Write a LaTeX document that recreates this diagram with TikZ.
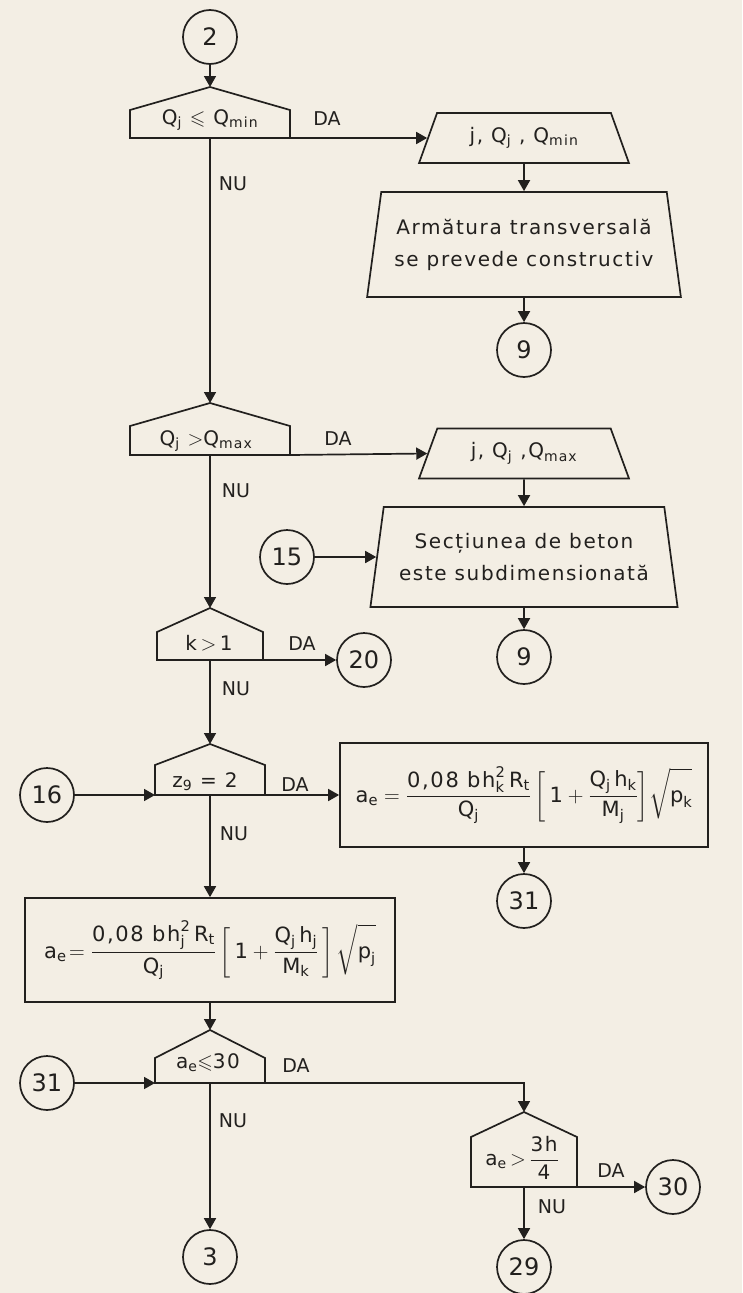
\documentclass[tikz,border=0pt]{standalone}
\usepackage{amsmath,amssymb,graphicx}
\usepackage{fontspec}
\setmainfont{DejaVu Sans}
\newfontfamily\wide{DejaVu Sans}[LetterSpace=8]
\usetikzlibrary{shapes.geometric,arrows.meta}
\definecolor{paper}{RGB}{243,238,228}
\definecolor{ink}{RGB}{34,32,30}
\newcommand\tx[1]{\text{#1}}
\newcommand\fsz{\fontsize{19}{26}\selectfont}
\newcommand\fwd{\fontsize{20}{26}\selectfont\wide}
\newcommand\Decision[6]{%
  \coordinate (#1-a) at (#2,#3);
  \coordinate (#1-l) at ({#2-#6},#5);
  \coordinate (#1-r) at ({#2+#6},#5);
  \coordinate (#1-b) at (#2,#5);
  \draw[shp] (#1-l) -- ({#2-#6},#4) -- (#1-a) -- ({#2+#6},#4) -- (#1-r) -- cycle;}
\tikzset{
  shp/.style={draw, line join=miter},
  conn/.style={draw, -{Triangle[length=11pt,width=12pt]}},
  circ/.style={draw, circle, minimum size=54pt, inner sep=0pt, font=\fontsize{24}{26}\selectfont},
  trapS/.style={draw, trapezium, trapezium stretches=true, trapezium left angle=62.5,
    trapezium right angle=62.5, minimum width=210pt, minimum height=50pt, inner sep=0pt, font=\fwd},
  trapB/.style={draw, trapezium, trapezium stretches=true, trapezium left angle=76,
    trapezium right angle=76, minimum width=314pt, minimum height=105pt, inner sep=0pt,
    align=center, font=\fontsize{20}{32}\selectfont\wide},
  fbox/.style={draw, rectangle, inner sep=0pt, font=\fwd},
  lbl/.style={font=\fsz, inner sep=0pt},
  dtx/.style={font=\fwd, inner sep=0pt}
}
\begin{document}
\begin{tikzpicture}[x=1pt,y=-1pt,line width=1.7pt,color=ink]
\fill[paper] (0,0) rectangle (742,1293);
\useasboundingbox (0,0) rectangle (742,1293);

% left column
\node[circ] (c2) at (210,37) {2};
\Decision{d1}{210}{87}{110}{138}{80}
\node[dtx,anchor=base] (d1t) at (210,124) {Q$_{\tx{j}}$ $\leqslant$ Q$_{\tx{min}}$};
\node[lbl,anchor=base] (d1da) at (327,125) {DA};
\node[lbl,anchor=base] (d1nu) at (233,190) {NU};

\Decision{d2}{210}{403}{426}{455}{80}
\node[dtx,anchor=base] (d2t) at (206,445) {Q$_{\tx{j}}$ $>$Q$_{\tx{max}}$};
\node[lbl,anchor=base] (d2da) at (338,445) {DA};
\node[lbl,anchor=base] (d2nu) at (236,497) {NU};

\Decision{d3}{210}{608}{632}{660}{53}
\node[dtx,anchor=base] (d3t) at (209,650) {k$\,>\,$1};
\node[lbl,anchor=base] (d3da) at (302,650) {DA};
\node[lbl,anchor=base] (d3nu) at (236,695) {NU};

\Decision{d4}{210}{744}{765}{795}{55}
\node[dtx,anchor=base] (d4t) at (205,787) {z$_{\tx{9}}$ = 2};
\node[lbl,anchor=base] (d4da) at (295,791) {DA};
\node[lbl,anchor=base] (d4nu) at (234,840) {NU};

\Decision{d5}{210}{1030}{1058}{1083}{55}
\node[dtx,anchor=base] (d5t) at (208,1068) {a$_{\tx{e}}$$\leqslant$30};
\node[lbl,anchor=base] (d5da) at (296,1072) {DA};
\node[lbl,anchor=base] (d5nu) at (233,1127) {NU};

\Decision{d6}{524}{1112}{1137}{1187}{53}
\node[dtx] (d6t) at (522,1158) {$\tx{a}_{\tx{e}}\,{>}\,\dfrac{\tx{3h}}{\tx{4}}$};
\node[lbl,anchor=base] (d6da) at (611,1177) {DA};
\node[lbl,anchor=base] (d6nu) at (552,1213) {NU};

% right column
\node[trapS] (t1) at (524,138) {j, Q$_{\tx{j}}$ , Q$_{\tx{min}}$};
\node[trapB] (b1) at (524,244.5) {Armătura transversală\\se prevede constructiv};
\node[circ] (c9a) at (524,350) {9};

\node[trapS] (t2) at (524,453.5) {j, Q$_{\tx{j}}$ ,Q$_{\tx{max}}$};
\node[trapB,minimum height=100pt,minimum width=308pt] (b2) at (524,557) {Secțiunea de beton\\este subdimensionată};
\node[circ] (c15) at (287,557) {15};
\node[circ] (c9b) at (524,657) {9};
\node[circ] (c20) at (364,660) {20};

\node[circ] (c16) at (47,795) {16};
\node[fbox,minimum width=368pt,minimum height=104pt] (fr) at (524,795)
 {\scalebox{1.05}{$\tx{a}_{\tx{e}} = \dfrac{\tx{0,08 bh}^{\tx{2}}_{\tx{k}}\,\tx{R}_{\tx{t}}}{\tx{Q}_{\tx{j}}}
   \left[\,\tx{1} + \dfrac{\tx{Q}_{\tx{j}}\,\tx{h}_{\tx{k}}}{\tx{M}_{\tx{j}}}\right]\!\sqrt{\tx{p}_{\tx{k}}\vphantom{\dfrac{A}{A}}}$}};
\node[fbox,minimum width=370pt,minimum height=104pt] (fl) at (210,950)
 {\scalebox{1.05}{$\tx{a}_{\tx{e}}\!= \dfrac{\tx{0,08 bh}^{\tx{2}}_{\tx{j}}\,\tx{R}_{\tx{t}}}{\tx{Q}_{\tx{j}}}
   \left[\,\tx{1} + \dfrac{\tx{Q}_{\tx{j}}\,\tx{h}_{\tx{j}}}{\tx{M}_{\tx{k}}}\,\right]\sqrt{\tx{p}_{\tx{j}}\vphantom{\dfrac{A}{A}}}$}};
\node[circ] (c31a) at (524,901) {31};
\node[circ] (c31b) at (47,1083) {31};
\node[circ] (c30) at (673,1187) {30};
\node[circ] (c29) at (524,1267) {29};
\node[circ] (c3) at (210,1257) {3};

% connectors
\draw[conn] (c2) -- (d1-a);
\draw[conn] (d1-r) -- (t1.left side);
\draw[conn] (d1-b) -- (d2-a);
\draw[conn] (t1.south) -- (b1.north);
\draw[conn] (b1.south) -- (c9a);
\draw[conn] (d2-r) -- (t2.left side);
\draw[conn] (t2.south) -- (b2.north);
\draw[conn] (c15) -- (b2.left side);
\draw[conn] (b2.south) -- (c9b);
\draw[conn] (d2-b) -- (d3-a);
\draw[conn] (d3-r) -- (c20);
\draw[conn] (d3-b) -- (d4-a);
\draw[conn] (c16) -- (d4-l);
\draw[conn] (d4-r) -- (fr.west);
\draw[conn] (d4-b) -- (fl.north);
\draw[conn] (fr.south) -- (c31a);
\draw[conn] (fl.south) -- (d5-a);
\draw[conn] (c31b) -- (d5-l);
\draw[conn] (d5-r) -| (d6-a);
\draw[conn] (d6-r) -- (c30);
\draw[conn] (d6-b) -- (c29);
\draw[conn] (d5-b) -- (c3);
\end{tikzpicture}
\end{document}
